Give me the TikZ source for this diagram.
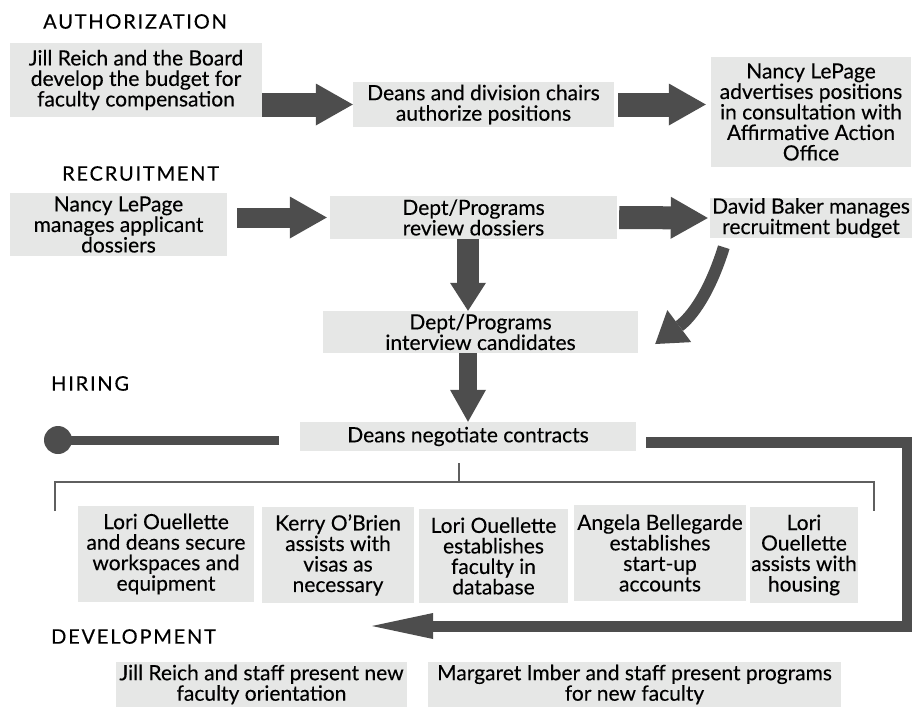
\documentclass[tikz,border=0pt]{standalone}
\usepackage{fontspec}
\setmainfont{Lato}[FakeBold=0.3]
\usetikzlibrary{arrows.meta}

\definecolor{cajagris}{RGB}{230,231,230}
\definecolor{flechagris}{RGB}{77,77,77}
\newcommand{\cajafont}{\fontsize{21}{20.5}\selectfont}
\newcommand{\titulofont}{\fontsize{20}{20}\selectfont\addfontfeatures{LetterSpace=9}}

\begin{document}
\begin{tikzpicture}[x=1pt,y=-1pt]

	\tikzstyle{caja} = [rectangle,fill=cajagris,align=center,inner sep=0pt,font=\cajafont]
	\tikzstyle{titulo} = [anchor=west,inner sep=0pt,font=\titulofont]
	\tikzstyle{flecha} = [draw=flechagris,line width=24pt,-{Triangle[length=37pt,width=42pt,line width=0pt]}]
	\tikzstyle{flechabaja} = [draw=flechagris,line width=22pt,-{Triangle[length=28pt,width=36pt,line width=0pt]}]
	\tikzstyle{flechacurva} = [draw=flechagris,line width=12pt,-{Triangle[length=30pt,width=40pt,line width=0pt]}]
	\tikzstyle{flechalarga} = [draw=flechagris,line width=11pt,miter limit=4,-{Triangle[length=61pt,width=26pt,line width=0pt]}]
	\tikzstyle{linea} = [draw=flechagris,line width=9pt]
	\tikzstyle{corchete} = [draw=flechagris!90,line width=2pt]

	\useasboundingbox (0,0) rectangle (912,707);

	% authorization
	\node[titulo] (tauth) at (43,21.5) {AUTHORIZATION};
	\node[caja,minimum width=252pt,minimum height=74pt] (a1) at (136,80) {Jill Reich and the Board\\develop the budget for\\faculty compensation};
	\node[caja,minimum width=261pt,minimum height=45pt] (a2) at (483.5,104.5) {Deans and division chairs\\authorize positions};
	\node[caja,minimum width=200pt,minimum height=110pt] (a3) at (811,112) {Nancy LePage\\advertises positions\\in consultation with\\Affirmative Action\\Office};

	% recruitment
	\node[titulo] (trec) at (62,173.5) {RECRUITMENT};
	\node[caja,minimum width=217pt,minimum height=63pt] (r1) at (118.5,224.5) {Nancy LePage\\manages applicant\\dossiers};
	\node[caja,minimum width=287pt,minimum height=43pt] (r2) at (473.5,217.5) {Dept/Programs\\review dossiers};
	\node[caja,minimum width=202pt,minimum height=40pt] (r3) at (811,218) {David Baker manages\\recruitment budget};
	\node[caja,minimum width=315pt,minimum height=42pt] (r4) at (480.5,332) {Dept/Programs\\interview candidates};

	% hiring
	\node[titulo] (thir) at (51,383.5) {HIRING};
	\node[caja,minimum width=336pt,minimum height=29pt] (h1) at (468,436.5) {Deans negotiate contracts};
	\node[caja,minimum width=176pt,minimum height=96pt] (b1) at (166,554) {Lori Ouellette\\and deans secure\\workspaces and\\equipment};
	\node[caja,minimum width=152pt,minimum height=96pt] (b2) at (338,555) {Kerry O’Brien\\assists with\\visas as\\necessary};
	\node[caja,minimum width=149pt,minimum height=94pt] (b3) at (493.5,556) {Lori Ouellette\\establishes\\faculty in\\database};
	\node[caja,minimum width=172pt,minimum height=96pt] (b4) at (660,553) {Angela Bellegarde\\establishes\\start-up\\accounts};
	\node[caja,minimum width=108pt,minimum height=96pt] (b5) at (804,555) {Lori\\Ouellette\\assists with\\housing};

	% development
	\node[titulo] (tdev) at (51,636.5) {DEVELOPMENT};
	\node[caja,minimum width=291pt,minimum height=45pt] (d1) at (261.5,684.5) {Jill Reich and staff present new\\faculty orientation};
	\node[caja,minimum width=413pt,minimum height=45pt] (d2) at (634.5,684.5) {Margaret Imber and staff present programs\\for new faculty};

	\coordinate (punto) at (58,440);
	\coordinate (rt) at (907,442);
	\coordinate (rb) at (907,626);
	\coordinate (devtip) at (372,626);
	\coordinate (cl) at (55,511);
	\coordinate (cr) at (874,511);
	\coordinate (stem) at (459,482);

	\draw[flecha] (a1.east |- a2.west) -- (a2.west);
	\draw[flecha] ([xshift=4pt]a2.east) -- ([xshift=-5pt]a3.west |- a2.east);
	\draw[flecha,line width=20pt] ([xshift=10pt]r1.east |- r2.west) -- ([xshift=-3pt]r2.west);
	\draw[flecha,line width=23pt] ([xshift=2pt]r2.east) -- ([xshift=-2pt]r3.west);
	\draw[flechabaja] (h1 |- r2.south) -- (h1 |- r4.north);
	\draw[flechabaja,line width=18pt,-{Triangle[length=32pt,width=36pt,line width=0pt]}] (h1 |- r4.south) -- (h1.north);
	\draw[flechacurva] ([xshift=14pt,yshift=-9pt]r3.south west) to[bend left=18] ([xshift=17pt,yshift=-12pt]r4.east);

	\draw[linea] ([xshift=-21pt]h1.west |- punto) -- (punto);
	\fill[flechagris] (punto) circle (14pt);
	\draw[flechalarga] ([xshift=10pt]h1.east |- rt) -- (rt) -- (rb) -- (devtip);

	\draw[corchete] (cl) |- (stem) -| (cr);
	\draw[corchete] ([yshift=-12pt]h1.south -| stem) -- (stem);

\end{tikzpicture}
\end{document}
